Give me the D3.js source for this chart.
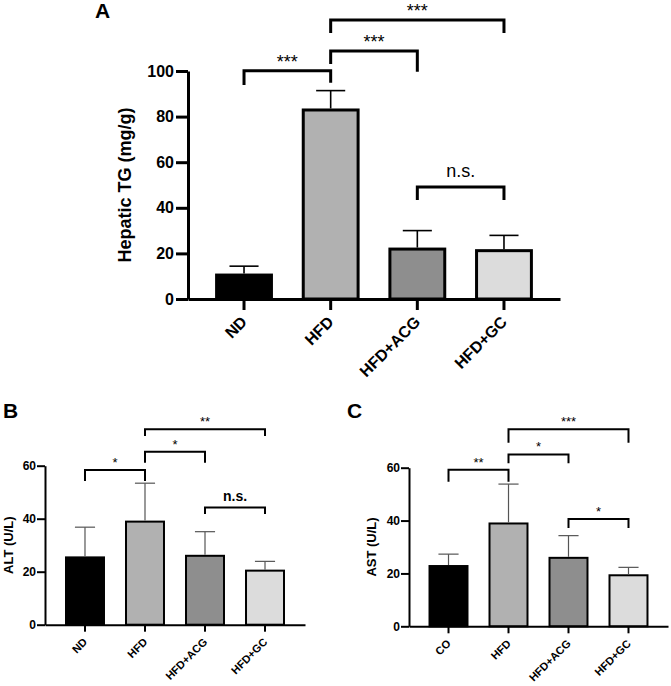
<!DOCTYPE html>
<html>
<head>
<meta charset="utf-8">
<script src="https://cdn.jsdelivr.net/npm/d3@7"></script>
<style>
  body { margin: 0; background: #fff; }
  text { font-family: "Liberation Sans", Arial, sans-serif; }
</style>
</head>
<body>
<svg id="fig" width="671" height="686"></svg>
<script>
// --- data ---
const groupsA = ["ND", "HFD", "HFD+ACG", "HFD+GC"];
const tgMean = [10.5, 82.9, 21.9, 21.2];
const tgSD = [3.9, 8.5, 8.1, 6.7];
const ticksA = [0, 20, 40, 60, 80, 100];

const groupsB = ["ND", "HFD", "HFD+ACG", "HFD+GC"];
const altMean = [25.4, 38.9, 26.0, 20.4];
const altSD = [11.4, 14.5, 9.1, 3.5];

const groupsC = ["CO", "HFD", "HFD+ACG", "HFD+GC"];
const astMean = [22.8, 38.9, 25.9, 19.3];
const astSD = [4.5, 14.9, 8.4, 3.0];
const ticksBC = [0, 20, 40, 60];

// brackets: [from, to, level, left leg end, right leg end, label] (data units)
const sigA = [
  [0, 1, 100.1, 93.9, 94.9, "***"],
  [1, 2, 108.8, 103.1, 99.7, "***"],
  [1, 3, 122.4, 116.7, 116.7, "***"],
  [2, 3, 49.1, 43.4, 43.4, "n.s."]
];
const sigB = [
  [0, 1, 58.4, 54.2, 54.2, "*"],
  [1, 2, 65.3, 61.1, 61.1, "*"],
  [1, 3, 73.8, 71.2, 71.2, "**"],
  [2, 3, 44.2, 41.8, 41.8, "n.s."]
];
const sigC = [
  [0, 1, 59.2, 54.7, 54.7, "**"],
  [1, 2, 65.0, 61.7, 61.7, "*"],
  [1, 3, 74.5, 69.4, 69.4, "***"],
  [2, 3, 40.6, 37.2, 37.2, "*"]
];

const fills = ["#000000", "#b1b1b1", "#8e8e8e", "#dcdcdc"];

const svg = d3.select("#fig");

function drawPanel(cfg) {
  const g = svg.append("g");

  const x = d3.scaleBand()
    .domain(cfg.groups)
    .range([cfg.left, cfg.right])
    .paddingInner(0.367)
    .paddingOuter(cfg.outer);

  const y = d3.scaleLinear()
    .domain([0, d3.max(cfg.ticks)])
    .range([cfg.bottom, cfg.top]);

  const rows = cfg.groups.map((k, i) => ({ k: k, m: cfg.mean[i], sd: cfg.sd[i], i: i }));

  // bars
  g.selectAll("rect.bar")
    .data(rows)
    .enter()
    .append("rect")
    .attr("class", "bar")
    .attr("x", d => x(d.k))
    .attr("y", d => y(d.m))
    .attr("width", x.bandwidth())
    .attr("height", d => y(0) - y(d.m))
    .attr("fill", d => fills[d.i])
    .attr("stroke", "#000")
    .attr("stroke-width", cfg.sw);

  // error bars (upper only)
  const cap = x.bandwidth() * 0.53;
  const eb = g.selectAll("g.err").data(rows).enter().append("g").attr("class", "err")
    .attr("stroke", cfg.errColor).attr("stroke-width", cfg.errW);
  eb.append("line")
    .attr("x1", d => x(d.k) + x.bandwidth() / 2)
    .attr("x2", d => x(d.k) + x.bandwidth() / 2)
    .attr("y1", d => y(d.m) - cfg.sw / 2)
    .attr("y2", d => y(d.m + d.sd));
  eb.append("line")
    .attr("x1", d => x(d.k) + x.bandwidth() / 2 - cap / 2)
    .attr("x2", d => x(d.k) + x.bandwidth() / 2 + cap / 2)
    .attr("y1", d => y(d.m + d.sd))
    .attr("y2", d => y(d.m + d.sd));

  // y axis
  const ya = g.append("g")
    .attr("transform", `translate(${cfg.left},0)`)
    .call(d3.axisLeft(y).tickValues(cfg.ticks).tickSize(cfg.tick).tickSizeOuter(0).tickPadding(cfg.tickPad));
  ya.selectAll("path, line").attr("stroke", "#000").attr("stroke-width", cfg.sw);
  ya.selectAll("text").style("font-size", cfg.tickFont + "px").style("font-weight", "bold").attr("fill", "#000");

  // x axis, labels turned 45 degrees
  const xa = g.append("g")
    .attr("transform", `translate(0,${cfg.bottom})`)
    .call(d3.axisBottom(x).tickSize(cfg.tick - 1).tickSizeOuter(0));
  xa.selectAll("path, line").attr("stroke", "#000").attr("stroke-width", cfg.sw);
  xa.selectAll("text")
    .attr("y", null)
    .attr("dy", null)
    .attr("fill", "#000")
    .attr("text-anchor", "end")
    .attr("transform", `translate(${cfg.lblDx},${cfg.lblDy}) rotate(-45)`)
    .style("font-size", cfg.xFont + "px")
    .style("font-weight", "bold");

  // axis title
  g.append("text")
    .attr("transform", `translate(${cfg.left - cfg.titleOff},${(cfg.top + cfg.bottom) / 2}) rotate(-90)`)
    .attr("text-anchor", "middle")
    .style("font-size", cfg.titleFont + "px")
    .style("font-weight", "bold")
    .text(cfg.title);

  // significance brackets
  const cx = k => x(cfg.groups[k]) + x.bandwidth() / 2;
  const br = g.selectAll("g.sig").data(cfg.sig).enter().append("g").attr("class", "sig");
  br.append("path")
    .attr("d", d => `M${cx(d[0])},${y(d[3])}V${y(d[2])}H${cx(d[1])}V${y(d[4])}`)
    .attr("fill", "none")
    .attr("stroke", "#000")
    .attr("stroke-width", cfg.sw);
  br.append("text")
    .attr("x", d => (cx(d[0]) + cx(d[1])) / 2)
    .attr("y", d => y(d[2]) - (d[5] === "n.s." ? cfg.nsOff : cfg.starOff))
    .attr("text-anchor", "middle")
    .style("font-size", d => (d[5] === "n.s." ? cfg.nsFont : cfg.starFont) + "px")
    .style("font-weight", d => d[5] === "n.s." ? cfg.nsWeight : "normal")
    .text(d => d[5]);

  // panel letter
  svg.append("text")
    .attr("x", cfg.letterX)
    .attr("y", cfg.letterY)
    .style("font-size", "21px")
    .style("font-weight", "bold")
    .text(cfg.letter);
}

drawPanel({
  letter: "A", letterX: 95, letterY: 18,
  groups: groupsA, mean: tgMean, sd: tgSD, ticks: ticksA, sig: sigA,
  left: 188, right: 560, top: 71, bottom: 299, outer: 0.33,
  sw: 3, errW: 1.6, errColor: "#000", tick: 12, tickPad: 2, tickFont: 16, xFont: 16,
  lblDx: 4, lblDy: 24, title: "Hepatic TG (mg/g)", titleFont: 18, titleOff: 57,
  starFont: 18, starOff: 3, nsFont: 18, nsOff: 10, nsWeight: "normal"
});

drawPanel({
  letter: "B", letterX: 3, letterY: 418,
  groups: groupsB, mean: altMean, sd: altSD, ticks: ticksBC, sig: sigB,
  left: 45, right: 305, top: 465.7, bottom: 624.7, outer: 0.35,
  sw: 2, errW: 1.2, errColor: "#555", tick: 8, tickPad: 1, tickFont: 12, xFont: 11,
  lblDx: 3, lblDy: 18, title: "ALT (U/L)", titleFont: 13, titleOff: 32.5,
  starFont: 13, starOff: 3, nsFont: 14, nsOff: 7, nsWeight: "bold"
});

drawPanel({
  letter: "C", letterX: 347, letterY: 418,
  groups: groupsC, mean: astMean, sd: astSD, ticks: ticksBC, sig: sigC,
  left: 409, right: 668, top: 467.7, bottom: 626.3, outer: 0.342,
  sw: 2, errW: 1.2, errColor: "#555", tick: 8, tickPad: 1, tickFont: 12, xFont: 11,
  lblDx: 3, lblDy: 18, title: "AST (U/L)", titleFont: 13, titleOff: 33.5,
  starFont: 13, starOff: 3, nsFont: 14, nsOff: 7, nsWeight: "bold"
});
</script>
</body>
</html>
